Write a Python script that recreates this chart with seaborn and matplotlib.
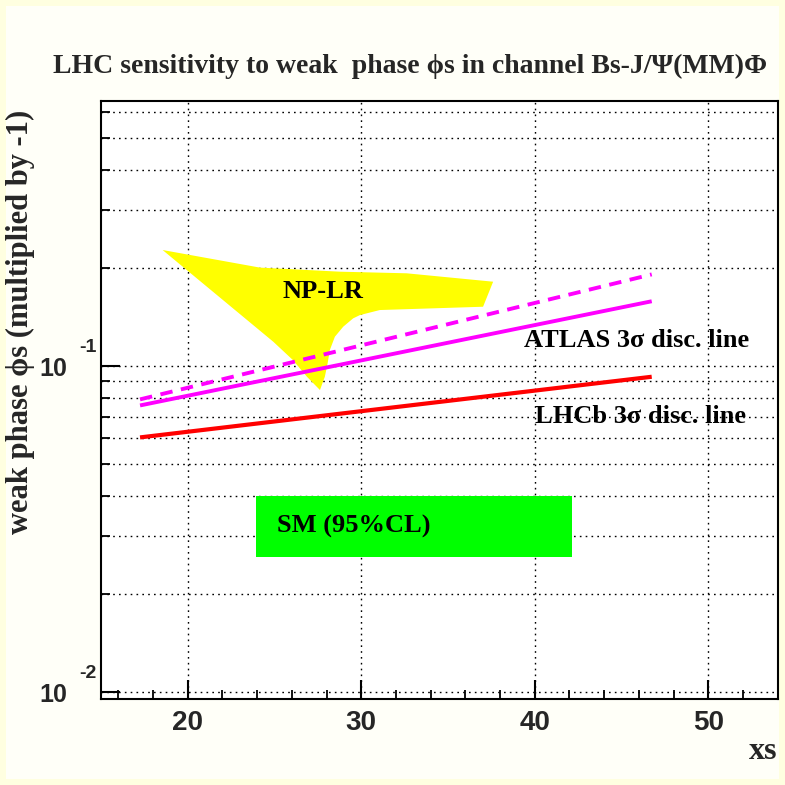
import matplotlib
matplotlib.use("Agg")
import matplotlib.pyplot as plt
from matplotlib.patches import Rectangle
from matplotlib.ticker import FixedLocator, FixedFormatter, NullFormatter
import pandas as pd
import seaborn as sns

# 3-sigma discovery lines: xs versus |phi_s|
line_xs = [17.25, 46.74]
lhcb_phi = [0.0604, 0.0927]
atlas_phi = [0.0757, 0.158]
atlas_dashed_phi = [0.079, 0.191]

# NP-LR region boundary
np_xs = [18.55, 24.16, 28.77, 32.61, 37.60, 37.02, 31.07, 29.92, 29.53, 28.96,
         28.48, 28.19, 28.06, 27.90, 27.62, 26.87, 26.06, 24.93]
np_phi = [0.2269, 0.2004, 0.1947, 0.1925, 0.1814, 0.1520, 0.1485, 0.1433, 0.1400,
          0.1320, 0.1230, 0.1120, 0.1019, 0.0927, 0.0844, 0.0927, 0.1043, 0.1187]

# SM 95% CL box
sm_xs = [23.93, 42.17]
sm_phi = [0.0259, 0.040]

# Axes ticks
x_major = [20, 30, 40, 50]
x_minor = [16, 18, 22, 24, 26, 28, 32, 34, 36, 38, 42, 44, 46, 48, 52]
y_major = [0.01, 0.1]
y_major_base = ["10", "10"]
y_major_exp = ["-2", "-1"]
y_minor = [0.02, 0.03, 0.04, 0.05, 0.06, 0.07, 0.08, 0.09, 0.2, 0.3, 0.4, 0.5, 0.6]

sns.set_theme(style="white")
plt.rcParams["font.family"] = ["Liberation Serif", "DejaVu Serif"]

W = 785
fig = plt.figure(figsize=(7.85, 7.85), dpi=100)
fig.patch.set_facecolor("#FFFFE0")
fig.add_artist(Rectangle((6 / W, 6 / W), 773 / W, 773 / W, transform=fig.transFigure,
                         facecolor="#FFFFF8", edgecolor="none", zorder=-5))

ax = fig.add_axes([101 / W, 1 - 699.3 / W, 676.7 / W, 598.3 / W])
ax.set_facecolor("white")
ax.set_yscale("log")
ax.set_xlim(15, 54)
ax.set_ylim(0.0095, 0.65)

# NP-LR region and SM box
ax.fill(np_xs, np_phi, color="#FFFF00", lw=0, zorder=1)
ax.add_patch(Rectangle((sm_xs[0], sm_phi[0]), sm_xs[1] - sm_xs[0], sm_phi[1] - sm_phi[0],
                       facecolor="#00FF00", edgecolor="none", zorder=1))

lines = pd.DataFrame({"xs": line_xs * 3,
                      "phi": lhcb_phi + atlas_phi + atlas_dashed_phi,
                      "which": ["LHCb"] * 2 + ["ATLAS"] * 2 + ["ATLAS2"] * 2})
sns.lineplot(data=lines[lines.which == "LHCb"], x="xs", y="phi", color="#FF0000",
             lw=3.0, ax=ax, zorder=3, legend=False)
sns.lineplot(data=lines[lines.which == "ATLAS"], x="xs", y="phi", color="#FF00FF",
             lw=2.8, ax=ax, zorder=3, legend=False)
sns.lineplot(data=lines[lines.which == "ATLAS2"], x="xs", y="phi", color="#FF00FF",
             lw=2.8, ax=ax, zorder=3, legend=False)
ax.lines[-1].set_dashes((3.2, 2.2))
for ln in ax.lines:
    ln.set_solid_capstyle("butt")
    ln.set_dash_capstyle("butt")

txt = dict(fontsize=19, fontweight="bold", color="black", zorder=4)
ax.text(27.79, 0.169, "NP-LR", ha="center", va="center", **txt)
ax.text(45.86, 0.1201, "ATLAS 3σ disc. line", ha="center", va="center", **txt)
ax.text(46.11, 0.0699, "LHCb 3σ disc. line", ha="center", va="center", **txt)
ax.text(25.14, 0.0321, "SM (95%CL)", ha="left", va="center", **txt)

# ticks and grid
ax.xaxis.set_major_locator(FixedLocator(x_major))
ax.xaxis.set_minor_locator(FixedLocator(x_minor))
ax.yaxis.set_major_locator(FixedLocator(y_major))
ax.yaxis.set_major_formatter(FixedFormatter(y_major_base))
ax.yaxis.set_minor_locator(FixedLocator(y_minor))
ax.yaxis.set_minor_formatter(NullFormatter())
ax.set_axisbelow(True)
grid_kw = dict(color="black", lw=1.0, ls=(0, (1.2, 3.0)))
ax.grid(True, which="major", axis="both", **grid_kw)
ax.grid(True, which="minor", axis="y", **grid_kw)
ax.tick_params(which="major", direction="in", length=14, width=1.5, color="black",
               top=False, right=False, left=True, bottom=True)
ax.tick_params(which="minor", direction="in", length=6.5, width=1.3, color="black",
               top=False, right=False, left=True, bottom=True)
ax.tick_params(axis="x", which="major", pad=8, labelsize=20)
ax.tick_params(axis="y", which="major", pad=24.5, labelsize=18)
for lab in ax.get_xticklabels() + ax.get_yticklabels():
    lab.set_family(["Liberation Sans", "DejaVu Sans"])
    lab.set_fontweight("bold")

# exponents of the log-axis labels, raised like superscripts
for v, e in zip(y_major, y_major_exp):
    ax.annotate(e, xy=(0, v), xycoords=("axes fraction", "data"),
                xytext=(-4, 19), textcoords="offset pixels", ha="right", va="center",
                fontsize=14, fontweight="bold", family=["Liberation Sans", "DejaVu Sans"],
                annotation_clip=False)

for sp in ax.spines.values():
    sp.set_color("black")
    sp.set_linewidth(1.5)

ax.set_xlabel("xs", fontsize=23, fontweight="bold", ha="right", va="center")
ax.xaxis.set_label_coords(1.0, -0.088)
ax.set_ylabel("weak phase ϕs (multiplied by -1)", fontsize=22, fontweight="bold",
              va="center")
ax.yaxis.set_label_coords(-0.119, 0.6315)

fig.text(410 / W, 1 - 73 / W, "LHC sensitivity to weak  phase ϕs in channel Bs-J/Ψ(MM)Φ",
         ha="center", va="baseline", fontsize=20, fontweight="bold")

fig.savefig("out.png", dpi=100, facecolor=fig.get_facecolor())
